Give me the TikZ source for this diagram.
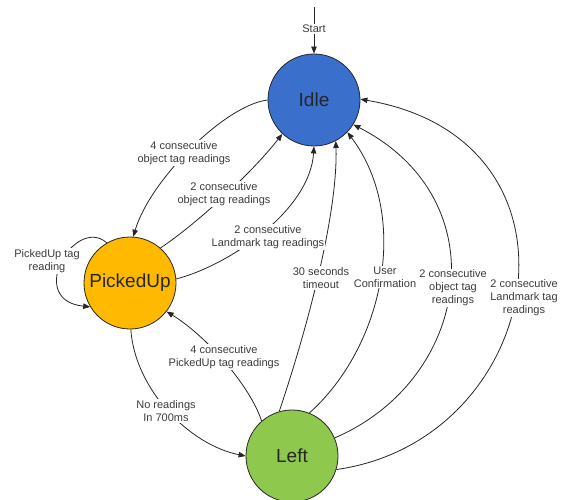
\documentclass[tikz,border=0pt]{standalone}
\usepackage{fontspec}
\setmainfont{Liberation Sans}
\usetikzlibrary{arrows.meta}
\definecolor{idleblue}{RGB}{58,111,204}
\definecolor{pickorange}{RGB}{255,186,0}
\definecolor{leftgreen}{RGB}{142,201,78}
\definecolor{labelgray}{RGB}{60,60,60}
\tikzset{
  state/.style={circle, draw=black!85, line width=0.8pt, minimum size=92pt, inner sep=0pt,
    font=\fontsize{19}{22}\selectfont, text=black!85},
  trans/.style={draw=black!85, line width=0.8pt, -{Triangle[length=7pt,width=5.5pt]}},
  lbl/.style={fill=white, inner sep=1pt, align=center, text=labelgray,
    font=\fontsize{11}{13}\selectfont}
}
\begin{document}
\begin{tikzpicture}[x=1pt,y=-1pt]
\useasboundingbox (0,0) rectangle (562,500);
\node[state, fill=idleblue] (idle) at (314,100) {Idle};
\node[state, fill=pickorange] (picked) at (130,283) {PickedUp};
\node[state, fill=leftgreen] (left) at (292,456) {Left};
\coordinate (start) at (314,7);

\draw[trans] (start) -- (idle.north);
\draw[trans] (idle.180) .. controls (225,105) and (150,180) .. (picked.86);
\draw[trans] (picked.49) .. controls (195,225) and (250,175) .. (idle.227);
\draw[trans] (picked.5) .. controls (230,265) and (310,210) .. (idle.-90);
\draw[trans] (picked.120) .. controls (75,215) and (25,300) .. (picked.211);
\draw[trans] (left.131) .. controls (250,385) and (205,335) .. (picked.-38);
\draw[trans] (picked.-89) .. controls (135,390) and (190,445) .. (left.180);
\draw[trans] (left.106) .. controls (310,320) and (338,210) .. (idle.-62);
\draw[trans] (left.68) .. controls (385,345) and (410,215) .. (idle.-44);
\draw[trans] (left.23) .. controls (470,380) and (500,200) .. (idle.-32);
\draw[trans] (left.-17) .. controls (545,440) and (600,140) .. (idle.1);

\node[lbl] (lstart) at (314,29) {Start};
\node[lbl] (l1) at (184,153) {4 consecutive\\object tag readings};
\node[lbl] (l2) at (224,194) {2 consecutive\\object tag readings};
\node[lbl] (l3) at (268,237) {2 consecutive\\Landmark tag readings};
\node[lbl] (l4) at (47,261) {PickedUp tag\\reading};
\node[lbl] (l5) at (224,357) {4 consecutive\\PickedUp tag readings};
\node[lbl] (l6) at (166,411) {No readings\\In 700ms};
\node[lbl] (l7) at (321,278) {30 seconds\\timeout};
\node[lbl] (l8) at (385,277) {User\\Confirmation};
\node[lbl] (l9) at (453,288) {2 consecutive\\object tag\\readings};
\node[lbl] (l10) at (524,298) {2 consecutive\\Landmark tag\\readings};
\end{tikzpicture}
\end{document}
